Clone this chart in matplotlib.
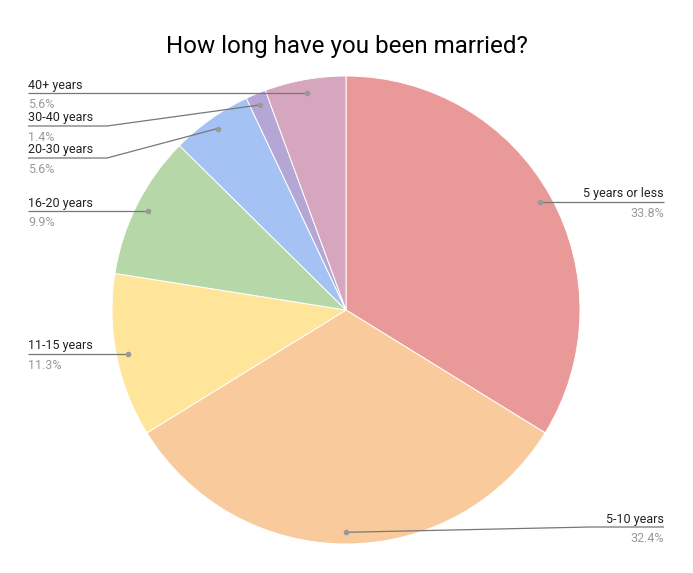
import numpy as np
import matplotlib
matplotlib.use('Agg')
import matplotlib.pyplot as plt

plt.rcParams['font.family'] = ['Roboto', 'DejaVu Sans']

W, H = 693, 573

categories = ['5 years or less', '5-10 years', '11-15 years', '16-20 years',
              '20-30 years', '30-40 years', '40+ years']
shares = [33.8, 32.4, 11.3, 9.9, 5.6, 1.4, 5.6]
colors = ['#ea9999', '#f9cb9c', '#ffe599', '#b6d7a8', '#a4c2f4', '#b4a7d6', '#d5a6bd']

# label layout in pixel coords (y from top): side, line y, elbow x
label_side = ['right', 'right', 'left', 'left', 'left', 'left', 'left']
label_y = [202, 527, 354, 211, 158, 126, 93]
elbow_x = [None, 590, None, None, 107, 107, None]

cx, cy, R = 346, 310, 234

fig = plt.figure(figsize=(W / 100, H / 100), dpi=100)
ax = fig.add_axes([0, 0, 1, 1])
ax.pie(shares, colors=colors, startangle=90, counterclock=False,
       center=(cx, H - cy), radius=R,
       wedgeprops=dict(edgecolor='white', linewidth=0.7))
ax.set_xlim(0, W)
ax.set_ylim(0, H)
ax.set_aspect('equal')
ax.axis('off')

fig.text(0.5, 1 - 46 / H, 'How long have you been married?', ha='center', va='center',
         fontsize=17.4, color='#000000')

start = 90.0
for name, v, side, ly, ex in zip(categories, shares, label_side, label_y, elbow_x):
    mid = np.deg2rad(start - v / 2 * 3.6)
    start -= v * 3.6
    dx = cx + 0.95 * R * np.cos(mid)
    dy = (H - cy) + 0.95 * R * np.sin(mid)
    Y = H - ly
    if ex is None:
        ex = dx
        dyy = Y
    else:
        dyy = dy
    end_x = 28 if side == 'left' else 664
    ax.plot([dx, ex, end_x], [dyy, Y, Y], color='#777777', lw=0.9, solid_capstyle='butt')
    ax.plot([dx], [dyy], 'o', color='#999999', ms=3)
    ha = 'left' if side == 'left' else 'right'
    ax.text(end_x, Y + 1.5, name, ha=ha, va='bottom', fontsize=9, color='#222222')
    ax.text(end_x, Y - 5, f'{v:.1f}%', ha=ha, va='top', fontsize=9, color='#999999')

fig.savefig('out.png', dpi=100, facecolor='white')
